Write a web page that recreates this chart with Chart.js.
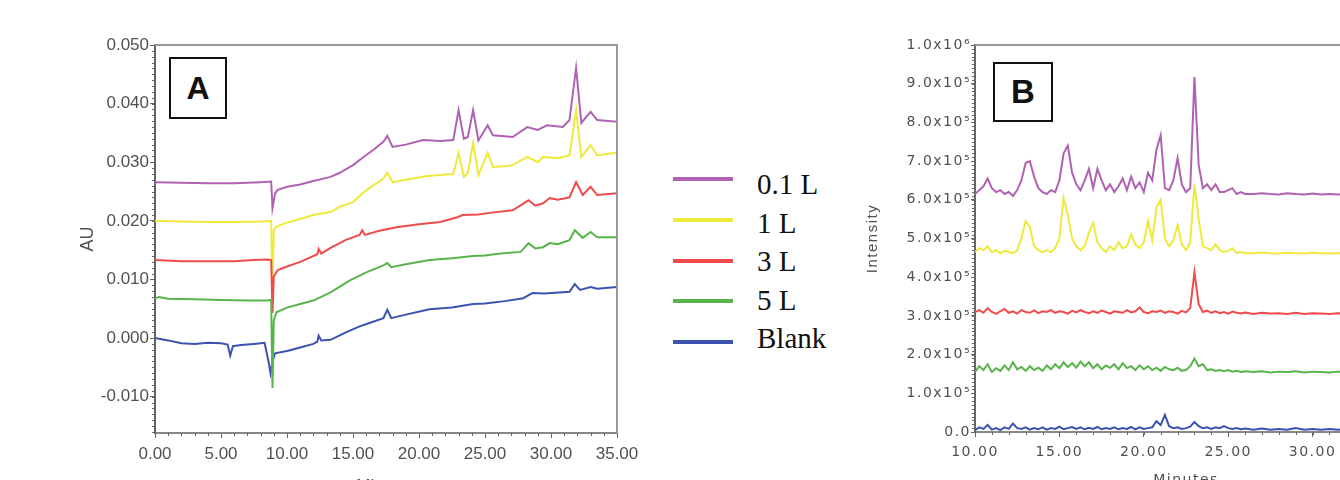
<!DOCTYPE html>
<html><head><meta charset="utf-8">
<script src="https://cdn.jsdelivr.net/npm/chart.js@4.4.1/dist/chart.umd.min.js"></script>
<style>
html,body{margin:0;padding:0;background:#fff;width:1340px;height:480px;overflow:hidden;position:relative;}
#ca{position:absolute;left:0;top:0;}
#cb{position:absolute;left:840px;top:0;}
.lbl{position:absolute;border:2px solid #111;background:#fff;font:bold 32px "Liberation Sans",Arial,sans-serif;color:#111;display:flex;align-items:center;justify-content:center;box-sizing:border-box;}
.lgline{position:absolute;left:673px;width:60px;height:4px;}
.lgtext{position:absolute;left:757px;font:29px "Liberation Serif","Times New Roman",serif;color:#111;line-height:30px;height:30px;}
</style>
</head><body>
<canvas id="ca" width="660" height="500"></canvas>
<canvas id="cb" width="600" height="500"></canvas>
<div class="lbl" style="left:169px;top:57px;width:58px;height:62px;">A</div>
<div class="lbl" style="left:993px;top:62px;width:60px;height:60px;font-size:33px;">B</div>
<div id="legend"></div>
<script>
// ---------- series names & colours ----------
const seriesNames = ['0.1 L', '1 L', '3 L', '5 L', 'Blank'];
const seriesColors = ['#b062b2', '#eeea3c', '#f04a4a', '#58b44a', '#3b52b0'];

// ---------- Panel A (UV, AU vs minutes) ----------
const tA_01L = [0,2,4,6,8,8.8,8.9,9.1,9.3,10,11,12,13.3,14,15,15.8,16.6,17.3,17.6,18.0,19,20.3,21.6,22.6,23.0,23.4,23.7,24.1,24.5,25.2,25.6,27.1,28.2,29.0,29.7,30.9,31.4,31.9,32.3,33.0,33.5,35];
const vA_01L = [0.0266,0.0265,0.0264,0.0264,0.0266,0.0267,0.0222,0.0247,0.0253,0.0258,0.0262,0.0268,0.0275,0.0282,0.0295,0.0309,0.0322,0.0335,0.0345,0.0326,0.0330,0.0338,0.0336,0.0338,0.0389,0.0340,0.0343,0.0389,0.0337,0.0363,0.0346,0.0343,0.0360,0.0355,0.0363,0.0360,0.0372,0.0461,0.0367,0.0386,0.0372,0.0369];

const tA_1L = [0,2,4,6,8,8.8,8.9,9.0,9.2,10,11,12,13.3,14,15,16,17.3,17.6,18.0,19,20.5,21.6,22.6,23.0,23.4,23.7,24.1,24.5,25.2,25.6,26.5,27.1,28.2,29.0,29.4,30.5,31.4,31.9,32.3,33.0,33.5,35];
const vA_1L = [0.0200,0.0199,0.0198,0.0198,0.0199,0.0200,0.0080,0.0184,0.0190,0.0197,0.0203,0.0210,0.0215,0.0224,0.0232,0.0252,0.0272,0.0282,0.0266,0.0270,0.0276,0.0278,0.0280,0.0316,0.0275,0.0282,0.0333,0.0278,0.0316,0.0292,0.0293,0.0295,0.0309,0.0300,0.0309,0.0307,0.0312,0.0389,0.0309,0.0329,0.0312,0.0316];

const tA_3L = [0,2,4,6,7.5,8.5,8.8,8.9,9.0,9.3,10,11,12.3,12.4,12.6,13.3,14.5,15.5,15.7,15.9,17,18.3,20,21.6,22.9,23.3,24.5,25.5,27.1,28.3,28.8,29.4,29.9,30.5,31.4,31.9,32.4,33.0,33.5,35];
const vA_3L = [0.0133,0.0131,0.0131,0.0131,0.0133,0.0134,0.0133,0.0043,0.0105,0.0116,0.0122,0.0130,0.0143,0.0152,0.0144,0.0154,0.0168,0.0176,0.0184,0.0176,0.0183,0.0189,0.0194,0.0198,0.0206,0.0210,0.0211,0.0214,0.0218,0.0235,0.0226,0.0230,0.0239,0.0236,0.0240,0.0266,0.0244,0.0258,0.0244,0.0247];

const tA_5L = [0,0.3,1,3,5,7,8.5,8.8,8.9,9.0,9.2,10,11,12,13.3,14.8,16,17.3,17.6,17.9,19,20.8,22.5,24.1,25,26,27.7,28.3,28.8,29.4,29.9,30.5,31.4,31.8,32.4,33.0,33.5,35];
const vA_5L = [0.0068,0.0070,0.0067,0.0066,0.0065,0.0064,0.0064,0.0065,-0.0085,0.0030,0.0044,0.0052,0.0058,0.0064,0.0078,0.0099,0.0112,0.0124,0.0128,0.0121,0.0126,0.0133,0.0136,0.0140,0.0141,0.0144,0.0147,0.0162,0.0153,0.0155,0.0162,0.0160,0.0167,0.0184,0.0171,0.0181,0.0172,0.0172];

const tA_Blank = [0,1,2,3,4,5,5.5,5.7,5.9,6.5,7.5,8.3,8.6,8.75,8.9,9.1,10,11,12,12.3,12.4,12.6,13.3,14.5,15.5,16.3,17.3,17.6,17.9,19,20.8,22.5,24.1,25,26.5,27.9,28.6,29.5,31.4,31.8,32.2,33.0,33.5,35];
const vA_Blank = [0.0000,-0.0004,-0.0009,-0.0010,-0.0008,-0.0009,-0.0011,-0.0030,-0.0014,-0.0012,-0.0010,-0.0008,-0.0040,-0.0060,-0.0040,-0.0026,-0.0022,-0.0016,-0.0010,-0.0006,0.0004,-0.0004,-0.0003,0.0010,0.0020,0.0026,0.0034,0.0048,0.0034,0.0040,0.0049,0.0052,0.0058,0.0059,0.0063,0.0068,0.0077,0.0076,0.0079,0.0092,0.0082,0.0087,0.0084,0.0087];

const xTicksA = [0,5,10,15,20,25,30,35];
const xTickLabelsA = ['0.00','5.00','10.00','15.00','20.00','25.00','30.00','35.00'];
const yTicksA = [-0.01,0,0.01,0.02,0.03,0.04,0.05];
const yTickLabelsA = ['-0.010','0.000','0.010','0.020','0.030','0.040','0.050'];

// ---------- Panel B (MS intensity, x10^5 units vs minutes) ----------
const tB = [10,10.25,10.5,10.75,11,11.25,11.5,11.75,12,12.25,12.5,12.75,13,13.25,13.5,13.75,14,14.25,14.5,14.75,15,15.25,15.5,15.75,16,16.25,16.5,16.75,17,17.25,17.5,17.75,18,18.25,18.5,18.75,19,19.25,19.5,19.75,20,20.25,20.5,20.75,21,21.25,21.5,21.75,22,22.25,22.5,22.75,23,23.25,23.5,23.75,24,24.25,24.5,24.75,25,25.25,25.5,25.75,26,26.5,27,27.5,28,28.5,29,29.5,30,30.5,31,31.5,32,32.5,33,33.5,34,34.5,35];
const vB_01L = [6.15,6.25,6.35,6.55, 6.3,6.2,6.25,6.15, 6.2,6.1,6.25,6.5, 6.95,7.0,6.6,6.3, 6.2,6.15,6.25,6.2, 6.5,7.2,7.4,6.7, 6.4,6.25,6.5,6.8, 6.3,6.8,6.5,6.25, 6.4,6.2,6.35,6.55, 6.25,6.6,6.3,6.45, 6.2,6.7,6.5,7.3, 7.67,6.3,6.25,6.5, 7.08,6.4,6.2,6.3, 9.17,6.9,6.3,6.4, 6.25,6.4,6.2,6.2, 6.25,6.3,6.15,6.2, 6.15, 6.15,6.17,6.15,6.14,6.17,6.15,6.14,6.16,6.14,6.15,6.14,6.15,6.14,6.15,6.14,6.15,6.14,6.15];
const vB_1L = [4.65,4.75,4.7,4.8, 4.65,4.7,4.62,4.68, 4.65,4.62,4.7,5.0, 5.45,5.3,4.8,4.7, 4.65,4.7,4.65,4.75, 5.0,6.05,5.6,5.0, 4.8,4.7,4.8,5.15, 5.4,4.9,4.75,4.65, 4.8,4.7,4.9,4.75, 4.8,5.1,4.85,4.75, 4.9,5.45,4.95,5.8, 6.0,5.0,4.8,4.95, 5.35,4.85,4.7,4.9, 6.4,5.5,4.8,4.75, 4.7,4.85,4.7,4.65, 4.68,4.75,4.63,4.65, 4.62, 4.62,4.64,4.62,4.61,4.63,4.62,4.61,4.63,4.62,4.61,4.62,4.63,4.61,4.62,4.61,4.62,4.61,4.62];
const vB_3L = [3.1,3.15,3.08,3.2, 3.1,3.05,3.12,3.18, 3.08,3.12,3.06,3.15, 3.1,3.08,3.14,3.07, 3.12,3.1,3.15,3.08, 3.12,3.1,3.06,3.13, 3.09,3.15,3.1,3.07, 3.12,3.08,3.14,3.1, 3.06,3.12,3.1,3.08, 3.15,3.09,3.12,3.22, 3.1,3.07,3.12,3.1, 3.14,3.08,3.12,3.1, 3.06,3.13,3.09,3.2, 4.13,3.3,3.1,3.14, 3.08,3.12,3.07,3.1, 3.06,3.11,3.08,3.06, 3.09, 3.05,3.08,3.06,3.07,3.05,3.08,3.05,3.07,3.06,3.05,3.07,3.06,3.05,3.07,3.06,3.05,3.06,3.05];
const vB_5L = [1.55,1.7,1.6,1.75, 1.55,1.65,1.58,1.72, 1.6,1.8,1.62,1.68, 1.58,1.7,1.6,1.66, 1.58,1.72,1.62,1.75, 1.65,1.8,1.68,1.78, 1.66,1.82,1.7,1.8, 1.65,1.75,1.62,1.72, 1.66,1.75,1.62,1.78, 1.65,1.7,1.6,1.72, 1.62,1.7,1.6,1.66, 1.58,1.68,1.62,1.6, 1.66,1.58,1.6,1.7, 1.9,1.7,1.75,1.6, 1.62,1.58,1.6,1.57, 1.6,1.56,1.58,1.55, 1.57, 1.55,1.57,1.54,1.56,1.55,1.57,1.54,1.56,1.55,1.54,1.56,1.55,1.54,1.56,1.55,1.54,1.55,1.54];
const vB_Blank = [0.05,0.12,0.08,0.18, 0.06,0.1,0.05,0.12, 0.08,0.22,0.1,0.08, 0.12,0.06,0.1,0.07, 0.12,0.06,0.1,0.08, 0.14,0.07,0.1,0.13, 0.08,0.12,0.07,0.11, 0.08,0.13,0.07,0.1, 0.08,0.12,0.07,0.1, 0.08,0.13,0.07,0.12, 0.08,0.1,0.12,0.28, 0.18,0.44,0.15,0.1, 0.12,0.08,0.1,0.14, 0.26,0.15,0.1,0.12, 0.08,0.12,0.1,0.15, 0.1,0.08,0.1,0.07, 0.09, 0.06,0.09,0.06,0.08,0.06,0.1,0.06,0.08,0.06,0.08,0.06,0.07,0.06,0.07,0.06,0.06,0.06,0.06];

const xTicksB = [10,15,20,25,30,35];
const xTickLabelsB = ['10.00','15.00','20.00','25.00','30.00','35.00'];
const yTicksB = [0,1,2,3,4,5,6,7,8,9,10];
const yTickLabelsB = ['0.0','1.0x10\u2075','2.0x10\u2075','3.0x10\u2075','4.0x10\u2075','5.0x10\u2075','6.0x10\u2075','7.0x10\u2075','8.0x10\u2075','9.0x10\u2075','1.0x10\u2076'];

// ---------- helpers ----------
const drawOrder = [4, 3, 2, 0, 1]; // lower = drawn on top
function pts(t, v) { return t.map((x, i) => ({x: x, y: v[i]})); }
function makeSets(list) {
  return list.map((p, i) => ({
    label: seriesNames[i], data: pts(p[0], p[1]), borderColor: seriesColors[i],
    borderWidth: 2, pointRadius: 0, fill: false, tension: 0, order: drawOrder[i]
  }));
}

const axisDeco = {
  id: 'axisDeco',
  beforeDraw(chart, args, o) { chart.ctx.letterSpacing = o.spacing; },
  afterDraw(chart, args, o) {
    const ctx = chart.ctx, a = chart.chartArea, xs = chart.scales.x, ys = chart.scales.y;
    ctx.save();
    ctx.lineWidth = 2; ctx.strokeStyle = o.frameColor;
    ctx.beginPath(); ctx.moveTo(a.left, a.top); ctx.lineTo(a.right, a.top); ctx.lineTo(a.right, a.bottom); ctx.stroke();
    ctx.lineWidth = 1; ctx.strokeStyle = o.tickColor; ctx.beginPath();
    for (let k = Math.ceil(xs.min / o.xMinor - 1e-9); k * o.xMinor <= xs.max + 1e-9; k++) {
      const p = Math.round(xs.getPixelForValue(k * o.xMinor)) + 0.5;
      ctx.moveTo(p, a.bottom); ctx.lineTo(p, a.bottom + o.len);
    }
    for (let k = Math.ceil(ys.min / o.yMinor - 1e-9); k * o.yMinor <= ys.max + 1e-9; k++) {
      const p = Math.round(ys.getPixelForValue(k * o.yMinor)) + 0.5;
      ctx.moveTo(a.left - o.len, p); ctx.lineTo(a.left, p);
    }
    ctx.stroke(); ctx.restore();
  }
};

function makeChart(id, sets, cfg) {
  return new Chart(document.getElementById(id), {
    type: 'line',
    data: {datasets: sets},
    options: {
      responsive: false, animation: false, events: [],
      layout: {padding: {left: 0, top: cfg.top, right: cfg.right, bottom: 0}},
      plugins: {legend: {display: false}, tooltip: {enabled: false}, axisDeco: cfg.deco},
      scales: {
        x: {
          type: 'linear', min: cfg.xmin, max: cfg.xmax,
          afterFit(s) { s.height = cfg.xh; },
          afterBuildTicks(s) { s.ticks = cfg.xTicks.map(v => ({value: v})); },
          ticks: {callback: (v, i) => cfg.xLabels[i], color: '#505050', font: cfg.tickFont, maxRotation: 0, autoSkip: false, padding: cfg.xpad},
          grid: {drawOnChartArea: false, tickLength: 5, tickColor: '#666'},
          border: {color: '#888', width: 2},
          title: {display: true, text: 'Minutes', color: '#505050', font: cfg.titleFont, padding: {top: 0, bottom: cfg.xTitlePad}}
        },
        y: {
          type: 'linear', min: cfg.ymin, max: cfg.ymax,
          afterFit(s) { s.width = cfg.yw; },
          afterBuildTicks(s) { s.ticks = cfg.yTicks.map(v => ({value: v})); },
          ticks: {callback: (v, i) => cfg.yLabels[i], color: '#505050', font: cfg.tickFont, autoSkip: false, padding: cfg.ypad},
          grid: {drawOnChartArea: false, tickLength: cfg.ytl, tickColor: '#666'},
          border: {color: '#666', width: 2},
          title: {display: true, text: cfg.yTitle, color: '#505050', font: cfg.yTitleFont, padding: {top: cfg.yTitlePad, bottom: 0}}
        }
      }
    },
    plugins: [axisDeco]
  });
}

makeChart('ca', makeSets([[tA_01L, vA_01L], [tA_1L, vA_1L], [tA_3L, vA_3L], [tA_5L, vA_5L], [tA_Blank, vA_Blank]]), {
  top: 45, right: 43, xh: 67, yw: 155, xmin: 0, xmax: 35, ymin: -0.0162, ymax: 0.05,
  xTicks: xTicksA, xLabels: xTickLabelsA, yTicks: yTicksA, yLabels: yTickLabelsA,
  tickFont: {family: '"Liberation Sans", Arial, sans-serif', size: 17},
  titleFont: {family: '"Liberation Sans", Arial, sans-serif', size: 17},
  yTitleFont: {family: '"Liberation Sans", Arial, sans-serif', size: 18},
  yTitle: 'AU', yTitlePad: 77, xTitlePad: 3, xpad: 6, ypad: 1, ytl: 5,
  deco: {spacing: '0px', frameColor: '#999', tickColor: '#666', xMinor: 1, yMinor: 0.001, len: 3}
});

const bData = [vB_01L, vB_1L, vB_3L, vB_5L, vB_Blank].map(v => [tB, v]);
makeChart('cb', makeSets(bData), {
  top: 45, right: 43, xh: 68, yw: 135, xmin: 10, xmax: 35, ymin: 0, ymax: 10,
  xTicks: xTicksB, xLabels: xTickLabelsB, yTicks: yTicksB, yLabels: yTickLabelsB,
  tickFont: {family: '"DejaVu Sans", "Liberation Sans", sans-serif', size: 14},
  titleFont: {family: '"DejaVu Sans", "Liberation Sans", sans-serif', size: 14},
  yTitleFont: {family: '"Liberation Sans", Arial, sans-serif', size: 15},
  yTitle: 'Intensity', yTitlePad: 24, xTitlePad: 11, xpad: 7, ypad: 0, ytl: 4,
  deco: {spacing: '1.5px', frameColor: '#999', tickColor: '#666', xMinor: 1, yMinor: 0.1, len: 3}
});

// ---------- legend ----------
const lg = document.getElementById('legend');
seriesNames.forEach((n, i) => {
  const l = document.createElement('div');
  l.className = 'lgline'; l.style.top = (177 + i * 40.75) + 'px'; l.style.background = seriesColors[i];
  lg.appendChild(l);
  const t = document.createElement('div');
  t.className = 'lgtext'; t.style.top = (169 + i * 38.5) + 'px'; t.textContent = n;
  lg.appendChild(t);
});
</script>
</body></html>
